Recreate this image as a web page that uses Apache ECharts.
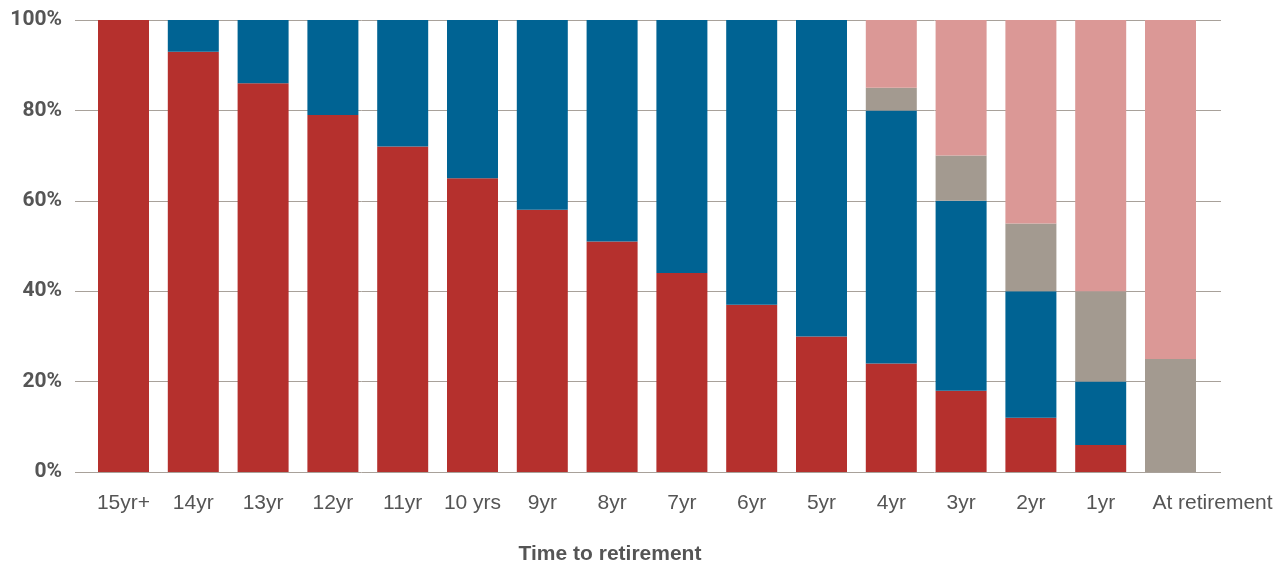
<!DOCTYPE html>
<html>
<head>
<meta charset="utf-8">
<script src="https://cdn.jsdelivr.net/npm/echarts@6/dist/echarts.min.js"></script>
<style>
  html, body { margin: 0; padding: 0; background: #fff; }
  #chart { width: 1286px; height: 565px; }
</style>
</head>
<body>
<div id="chart"></div>
<script>
// Glide path: share of the portfolio in each asset class, by years to retirement
const categories = ['15yr+', '14yr', '13yr', '12yr', '11yr', '10 yrs', '9yr', '8yr', '7yr', '6yr', '5yr', '4yr', '3yr', '2yr', '1yr', 'At retirement'];
const redValues  = [100, 93, 86, 79, 72, 65, 58, 51, 44, 37, 30, 24, 18, 12, 6, 0];
const blueValues = [0, 7, 14, 21, 28, 35, 42, 49, 56, 63, 70, 56, 42, 28, 14, 0];
const grayValues = [0, 0, 0, 0, 0, 0, 0, 0, 0, 0, 0, 5, 10, 15, 20, 25];
const pinkValues = [0, 0, 0, 0, 0, 0, 0, 0, 0, 0, 0, 15, 30, 45, 60, 75];
const yTicks = [0, 20, 40, 60, 80, 100];

const chart = echarts.init(document.getElementById('chart'));

const seriesDefs = [
  { name: 'red',  data: redValues,  color: '#B5302D' },
  { name: 'blue', data: blueValues, color: '#006393' },
  { name: 'gray', data: grayValues, color: '#A39A90' },
  { name: 'pink', data: pinkValues, color: '#DB9896' }
];

// the long final label is nudged right so it starts at its bar's left edge
const categoryItems = categories.map((c, i) =>
  i === categories.length - 1
    ? { value: c, textStyle: { padding: [0, 0, 0, 84] } }
    : c
);

chart.setOption({
  animation: false,
  backgroundColor: '#ffffff',
  grid: [
    // outer grid: carries the horizontal rules and percentage labels
    { left: 75, right: 65, top: 20, bottom: 93 },
    // inner grid: carries the bars and category labels
    { left: 88.6, width: 1116.8, top: 20, bottom: 93 }
  ],
  xAxis: [
    { gridIndex: 0, type: 'value', min: 0, max: 1, show: false },
    {
      gridIndex: 1,
      type: 'category',
      data: categoryItems,
      axisLine: { show: false },
      axisTick: { show: false },
      axisLabel: {
        interval: 0,
        margin: 21,
        color: '#555555',
        fontSize: 21,
        fontFamily: 'Liberation Sans, Arial, sans-serif'
      }
    }
  ],
  yAxis: [
    {
      gridIndex: 0,
      type: 'value',
      min: yTicks[0],
      max: yTicks[yTicks.length - 1],
      interval: 20,
      axisLine: { show: false },
      axisTick: { show: false },
      axisLabel: {
        margin: 13,
        color: '#555555',
        fontSize: 21,
        fontWeight: 'bold',
        fontFamily: 'Roboto, Liberation Sans, Arial, sans-serif',
        formatter: v => v + '%'
      },
      splitLine: { show: true, lineStyle: { color: '#A8A19A', width: 1 } }
    },
    { gridIndex: 1, type: 'value', min: 0, max: 100, show: false }
  ],
  series: seriesDefs.map(s => ({
    name: s.name,
    type: 'bar',
    xAxisIndex: 1,
    yAxisIndex: 1,
    stack: 'total',
    barWidth: 51,
    data: s.data,
    itemStyle: { color: s.color }
  })),
  graphic: [
    {
      type: 'text',
      x: 610,
      y: 554,
      style: {
        text: 'Time to retirement',
        fill: '#555555',
        font: 'bold 21px "Liberation Sans", Arial, sans-serif',
        textAlign: 'center',
        textVerticalAlign: 'middle'
      }
    }
  ]
});
</script>
</body>
</html>
